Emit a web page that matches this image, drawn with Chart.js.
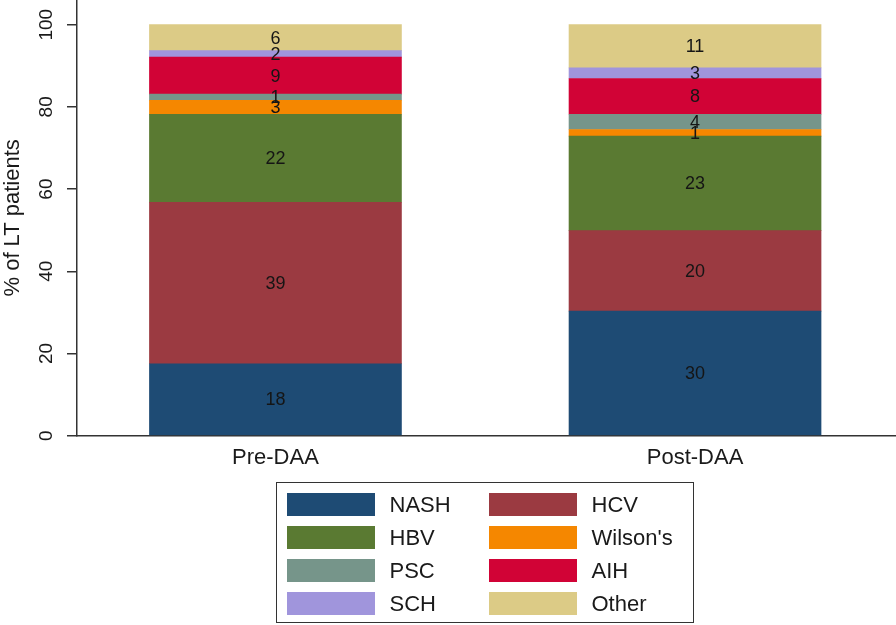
<!DOCTYPE html>
<html>
<head>
<meta charset="utf-8">
<script src="https://cdn.jsdelivr.net/npm/chart.js@4.4.1/dist/chart.umd.min.js"></script>
<style>
  html, body { margin: 0; padding: 0; background: #fff; overflow: hidden; }
  #wrap { position: relative; width: 896px; height: 625px; }
  #chart { position: absolute; left: 0; top: 0; }
  #legend {
    position: absolute; left: 276px; top: 482px; width: 418px; height: 141px;
    border: 1.5px solid #333; box-sizing: border-box;
    display: grid; grid-template-columns: 88px 84px 88px auto;
    grid-auto-rows: 23px; column-gap: 15px; row-gap: 10px;
    padding: 9.5px 0 0 9.5px;
    font-family: "Liberation Sans", Arial, sans-serif; font-size: 22px; color: #1a1a1a;
  }
  #legend .sw { width: 88px; height: 23px; }
  #legend .tx { line-height: 23px; white-space: nowrap; }
</style>
</head>
<body>
<div id="wrap">
  <canvas id="chart" width="896" height="625"></canvas>
  <div id="legend"></div>
</div>
<script>
const categories = ["Pre-DAA", "Post-DAA"];
const series = ["NASH", "HCV", "HBV", "Wilson's", "PSC", "AIH", "SCH", "Other"];
const colors = ["#1e4b74", "#9b3a41", "#5a7a32", "#f58700", "#76958a", "#d10336", "#a095dc", "#dccb86"];

// segment heights (% of LT patients), bottom to top
const preDAA = [17.5, 39.3, 21.4, 3.4, 1.5, 9.0, 1.6, 6.3];
const postDAA = [30.3, 19.6, 23.0, 1.6, 3.7, 8.7, 2.6, 10.5];

// numbers printed on the segments
const preLabels = ["18", "39", "22", "3", "1", "9", "2", "6"];
const postLabels = ["30", "20", "23", "1", "4", "8", "3", "11"];

const yTicks = [0, 20, 40, 60, 80, 100];

const values = [preDAA, postDAA];
const texts = [preLabels, postLabels];

Chart.defaults.font.family = '"Liberation Sans", Arial, sans-serif';
Chart.defaults.color = "#222";

// build floating ranges from the stacked heights
const datasets = series.map((name, s) => ({
  label: name,
  backgroundColor: colors[s],
  borderWidth: 0,
  grouped: false,
  barThickness: 252,
  data: categories.map((c, i) => {
    const base = values[i].slice(0, s).reduce((a, b) => a + b, 0);
    return { x: i, y: [base, base + values[i][s]] };
  }),
}));

const segmentLabels = {
  id: "segmentLabels",
  afterDatasetsDraw(chart) {
    const ctx = chart.ctx;
    ctx.save();
    ctx.font = '18px "Liberation Sans", Arial, sans-serif';
    ctx.fillStyle = "#151515";
    ctx.textAlign = "center";
    ctx.textBaseline = "middle";
    chart.data.datasets.forEach((ds, s) => {
      chart.getDatasetMeta(s).data.forEach((bar, i) => {
        ctx.fillText(texts[i][s], bar.x, (bar.y + bar.base) / 2 + 1);
      });
    });
    ctx.restore();
  },
};

function noPadding(scale) {
  scale.paddingTop = 0;
  scale.paddingBottom = 0;
  scale.paddingLeft = 0;
  scale.paddingRight = 0;
}

new Chart(document.getElementById("chart"), {
  type: "bar",
  data: { datasets },
  options: {
    responsive: false,
    animation: false,
    layout: { padding: 0 },
    plugins: { legend: { display: false }, tooltip: { enabled: false } },
    scales: {
      x: {
        type: "linear",
        offset: false,
        min: -0.473,
        max: 1.479,
        afterBuildTicks: (scale) => {
          scale.ticks = categories.map((c, i) => ({ value: i }));
        },
        afterFit: (scale) => {
          scale.height = 625 - 435.7;
          noPadding(scale);
        },
        grid: { display: false, drawTicks: false, offset: false },
        border: { display: true, color: "#333", width: 1.5 },
        ticks: {
          padding: 9,
          maxRotation: 0,
          autoSkip: false,
          font: { size: 22 },
          color: "#1a1a1a",
          callback: (v, i) => categories[i],
        },
      },
      y: {
        min: 0,
        max: 106,
        afterBuildTicks: (scale) => {
          scale.ticks = yTicks.map((v) => ({ value: v }));
        },
        afterFit: (scale) => {
          scale.width = 77;
          noPadding(scale);
        },
        grid: {
          drawOnChartArea: false,
          drawTicks: true,
          tickLength: 10,
          color: "#333",
          lineWidth: 1.5,
        },
        border: { display: true, color: "#333", width: 1.5 },
        ticks: {
          minRotation: 90,
          maxRotation: 90,
          crossAlign: "center",
          padding: 4,
          font: { size: 19 },
          color: "#1a1a1a",
        },
        title: {
          display: true,
          text: "% of LT patients",
          font: { size: 22 },
          color: "#1a1a1a",
          padding: 0,
        },
      },
    },
  },
  plugins: [segmentLabels],
});

// legend box, two columns
const legend = document.getElementById("legend");
series.forEach((name, s) => {
  const sw = document.createElement("div");
  sw.className = "sw";
  sw.style.background = colors[s];
  const tx = document.createElement("div");
  tx.className = "tx";
  tx.textContent = name;
  legend.appendChild(sw);
  legend.appendChild(tx);
});
</script>
</body>
</html>
